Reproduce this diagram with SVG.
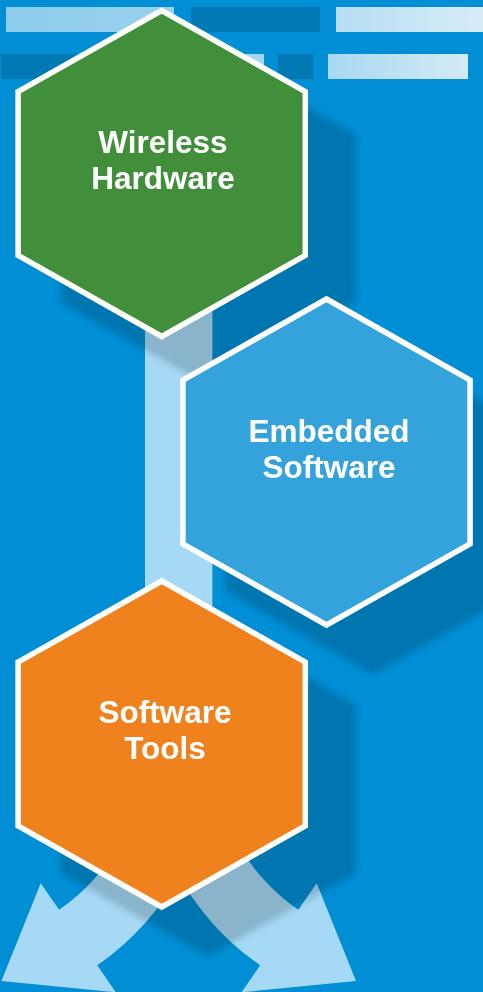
<svg xmlns="http://www.w3.org/2000/svg" width="483" height="992" viewBox="0 0 483 992">
<style>
.hexfill{stroke:#FFFFFF;stroke-width:5.5;stroke-linejoin:miter}
.label{font-family:"Liberation Sans",Arial,sans-serif;font-weight:bold;font-size:31.5px;fill:#FFFFFF;text-anchor:middle}
.flow{fill:#A5D9F5}
.dark{fill:#0079B5}
.shadow{fill:#000000;fill-opacity:0.17}
</style>
<defs>
<polygon id="hex" points="0,-163 143.6,-82 143.6,82 0,163 -143.6,82 -143.6,-82"/>
<filter id="blur" x="-20%" y="-20%" width="140%" height="140%">
<feGaussianBlur stdDeviation="3.2"/>
</filter>
<linearGradient id="gA" x1="0" y1="0" x2="1" y2="0">
<stop offset="0" stop-color="#8ECCEB"/>
<stop offset="1" stop-color="#98D1EE"/>
</linearGradient>
<linearGradient id="gC" x1="0" y1="0" x2="1" y2="0">
<stop offset="0" stop-color="#B6DEF3"/>
<stop offset="1" stop-color="#D8ECF7"/>
</linearGradient>
<linearGradient id="gF" x1="0" y1="0" x2="1" y2="0">
<stop offset="0" stop-color="#A8D8F2"/>
<stop offset="1" stop-color="#D4EAF6"/>
</linearGradient>
</defs>
<rect x="0" y="0" width="483" height="992" fill="#008ED4"/>
<g id="bars">
<rect x="6" y="7" width="168" height="25" fill="url(#gA)"/>
<rect class="dark" x="191" y="7" width="129" height="25"/>
<rect x="336" y="7" width="147" height="25" fill="url(#gC)"/>
<rect class="dark" x="1" y="54" width="130" height="25"/>
<rect x="131" y="54" width="133" height="25" fill="#A5D6F2"/>
<rect class="dark" x="278" y="54" width="35" height="25"/>
<rect x="328" y="54" width="140" height="25" fill="url(#gF)"/>
</g>
<g id="connectors">
<rect class="flow" x="145" y="300" width="67.4" height="447"/>
<path class="flow" d="M 145 746 A 266.3 266.3 0 0 0 260.1 965.2 L 241.6 992.3 L 356 981 L 316.7 883.3 L 298.3 909.8 A 199 199 0 0 1 212.3 746 Z"/>
<path class="flow" d="M 212.4 746 A 266.3 266.3 0 0 1 97.3 965.2 L 115.8 992.3 L 1.4 981 L 40.7 883.3 L 59.1 909.8 A 199 199 0 0 0 145.1 746 Z"/>
</g>
<g id="shadows" filter="url(#blur)">
<use href="#hex" class="shadow" transform="translate(208.2,218.5) scale(1.025)"/>
<use href="#hex" class="shadow" transform="translate(373,507) scale(1.025)"/>
<use href="#hex" class="shadow" transform="translate(208.2,789) scale(1.025)"/>
</g>
<g id="node-wireless-hardware">
<use href="#hex" class="hexfill" fill="#418F3B" transform="translate(161.7,173.5)"/>
<text class="label" x="163" y="153.3">Wireless</text>
<text class="label" x="163" y="189">Hardware</text>
</g>
<g id="node-embedded-software">
<use href="#hex" class="hexfill" fill="#35A3DB" transform="translate(326.5,462)"/>
<text class="label" x="329" y="442.3">Embedded</text>
<text class="label" x="329" y="477.7">Software</text>
</g>
<g id="node-software-tools">
<use href="#hex" class="hexfill" fill="#F0821E" transform="translate(161.7,744)"/>
<text class="label" x="165" y="723.3">Software</text>
<text class="label" x="165" y="759.3">Tools</text>
</g>
</svg>
